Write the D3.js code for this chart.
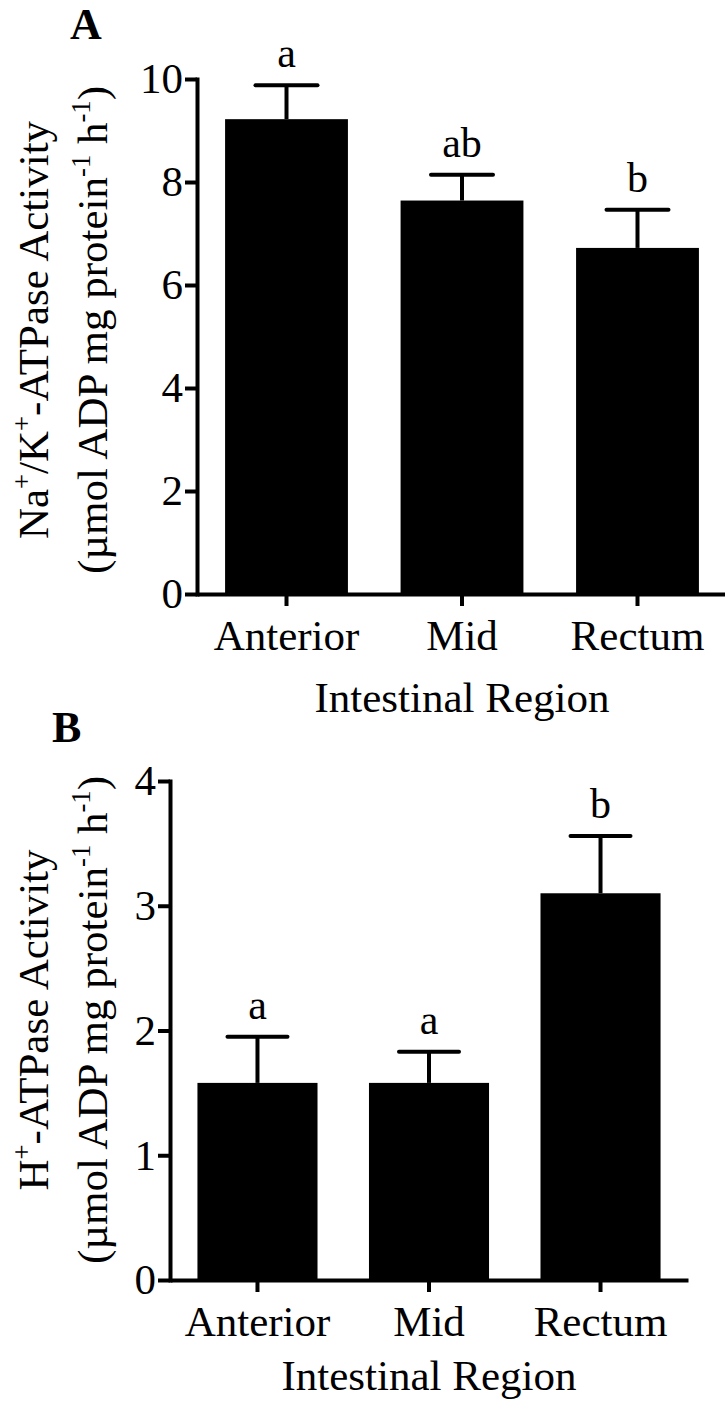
<!DOCTYPE html>
<html><head><meta charset="utf-8">
<script src="https://cdn.jsdelivr.net/npm/d3@7"></script>
<style>body{margin:0;background:#fff}</style>
</head><body>
<svg id="chart" width="725" height="1403"></svg>
<script>
// ---- data ----
const categories = ["Anterior", "Mid", "Rectum"];
const naKMeans = [9.22, 7.64, 6.72];
const naKErrors = [0.66, 0.50, 0.74];
const naKLetters = ["a", "ab", "b"];
const naKTicks = [0, 2, 4, 6, 8, 10];
const hMeans = [1.58, 1.58, 3.10];
const hErrors = [0.37, 0.25, 0.46];
const hLetters = ["a", "a", "b"];
const hTicks = [0, 1, 2, 3, 4];
const xTitle = "Intestinal Region";
const naKTitle1 = [["Na"], ["+", true], ["/K"], ["+", true], ["-ATPase Activity"]];
const hTitle1 = [["H"], ["+", true], ["-ATPase Activity"]];
const unitTitle = [["(µmol ADP mg protein"], ["-1", true], [" h"], ["-1", true], [")"]];

const FONT = "'Liberation Serif','Times New Roman',Times,serif";
const FS = 43;
const svg = d3.select("#chart");

function richText(g, parts, fs) {
  const t = g.append("text").attr("text-anchor", "middle")
    .style("font-family", FONT).style("font-size", fs + "px").style("white-space", "pre");
  const up = fs * 0.4;
  let shifted = false;
  parts.forEach(([s, sup]) => {
    const ts = t.append("tspan").text(s);
    if (sup) { ts.style("font-size", (fs * 0.62) + "px").attr("dy", shifted ? 0 : -up); shifted = true; }
    else { ts.attr("dy", shifted ? up : 0); shifted = false; }
  });
  return t;
}

function drawPanel(cfg) {
  const x = d3.scaleBand().domain(categories).range([cfg.left, cfg.right])
    .paddingInner(0.3).paddingOuter(0.16);
  const y = d3.scaleLinear().domain([0, cfg.yMax]).range([cfg.bottom, cfg.top]);
  const g = svg.append("g");
  const rows = categories.map((c, i) => ({ c, m: cfg.means[i], e: cfg.errors[i], l: cfg.letters[i] }));

  const cx = d => x(d.c) + x.bandwidth() / 2;
  g.selectAll("line.err").data(rows).join("line")
    .attr("x1", cx).attr("x2", cx)
    .attr("y1", d => y(d.m)).attr("y2", d => y(d.m + d.e))
    .attr("stroke", "#000").attr("stroke-width", 4);
  g.selectAll("line.cap").data(rows).join("line")
    .attr("x1", d => cx(d) - cfg.cap).attr("x2", d => cx(d) + cfg.cap)
    .attr("y1", d => y(d.m + d.e)).attr("y2", d => y(d.m + d.e))
    .attr("stroke", "#000").attr("stroke-width", 4).attr("stroke-linecap", "round");

  g.selectAll("rect.bar").data(rows).join("rect")
    .attr("x", d => x(d.c)).attr("width", x.bandwidth())
    .attr("y", d => y(d.m)).attr("height", d => y(0) - y(d.m))
    .attr("fill", "#000");

  g.selectAll("text.letter").data(rows).join("text")
    .attr("x", cx).attr("y", d => y(d.m + d.e) - 18)
    .attr("text-anchor", "middle")
    .style("font-family", FONT).style("font-size", "42px")
    .text(d => d.l);

  const ya = g.append("g").attr("transform", `translate(${cfg.left},0)`)
    .call(d3.axisLeft(y).tickValues(cfg.ticks).tickSize(12).tickSizeOuter(0).tickPadding(2).tickFormat(d3.format("d")));
  const xa = g.append("g").attr("transform", `translate(0,${cfg.bottom})`)
    .call(d3.axisBottom(x).tickSize(12).tickSizeOuter(0).tickPadding(cfg.xPad));
  [ya, xa].forEach(a => {
    a.selectAll("path,line").attr("stroke", "#000").attr("stroke-width", 4);
    a.selectAll("text").style("font-family", FONT).style("font-size", FS + "px").attr("fill", "#000");
  });
  ya.select("path.domain").attr("stroke-linecap", "square");

  g.append("text").attr("x", (cfg.left + cfg.right) / 2).attr("y", cfg.xTitleY)
    .attr("text-anchor", "middle").style("font-family", FONT).style("font-size", FS + "px")
    .text(xTitle);

  const yc = cfg.yTitleCenter;
  const t1 = g.append("g").attr("transform", `translate(48,${yc}) rotate(-90)`);
  richText(t1, cfg.title1, FS);
  const t2 = g.append("g").attr("transform", `translate(107,${yc}) rotate(-90)`);
  richText(t2, unitTitle, FS);

  g.append("text").attr("x", cfg.labelX).attr("y", cfg.labelY)
    .style("font-family", FONT).style("font-size", "44px").style("font-weight", "bold")
    .text(cfg.label);
}

drawPanel({ means: naKMeans, errors: naKErrors, letters: naKLetters, ticks: naKTicks, yMax: 10,
  left: 197, right: 727, top: 79, bottom: 594, cap: 31, xPad: 13, xTitleY: 712,
  yTitleCenter: 330, title1: naKTitle1, label: "A", labelX: 70, labelY: 39 });
drawPanel({ means: hMeans, errors: hErrors, letters: hLetters, ticks: hTicks, yMax: 4,
  left: 170, right: 688, top: 781, bottom: 1280, cap: 30, xPad: 13, xTitleY: 1390,
  yTitleCenter: 1020, title1: hTitle1, label: "B", labelX: 52, labelY: 742 });
</script>
</body></html>
